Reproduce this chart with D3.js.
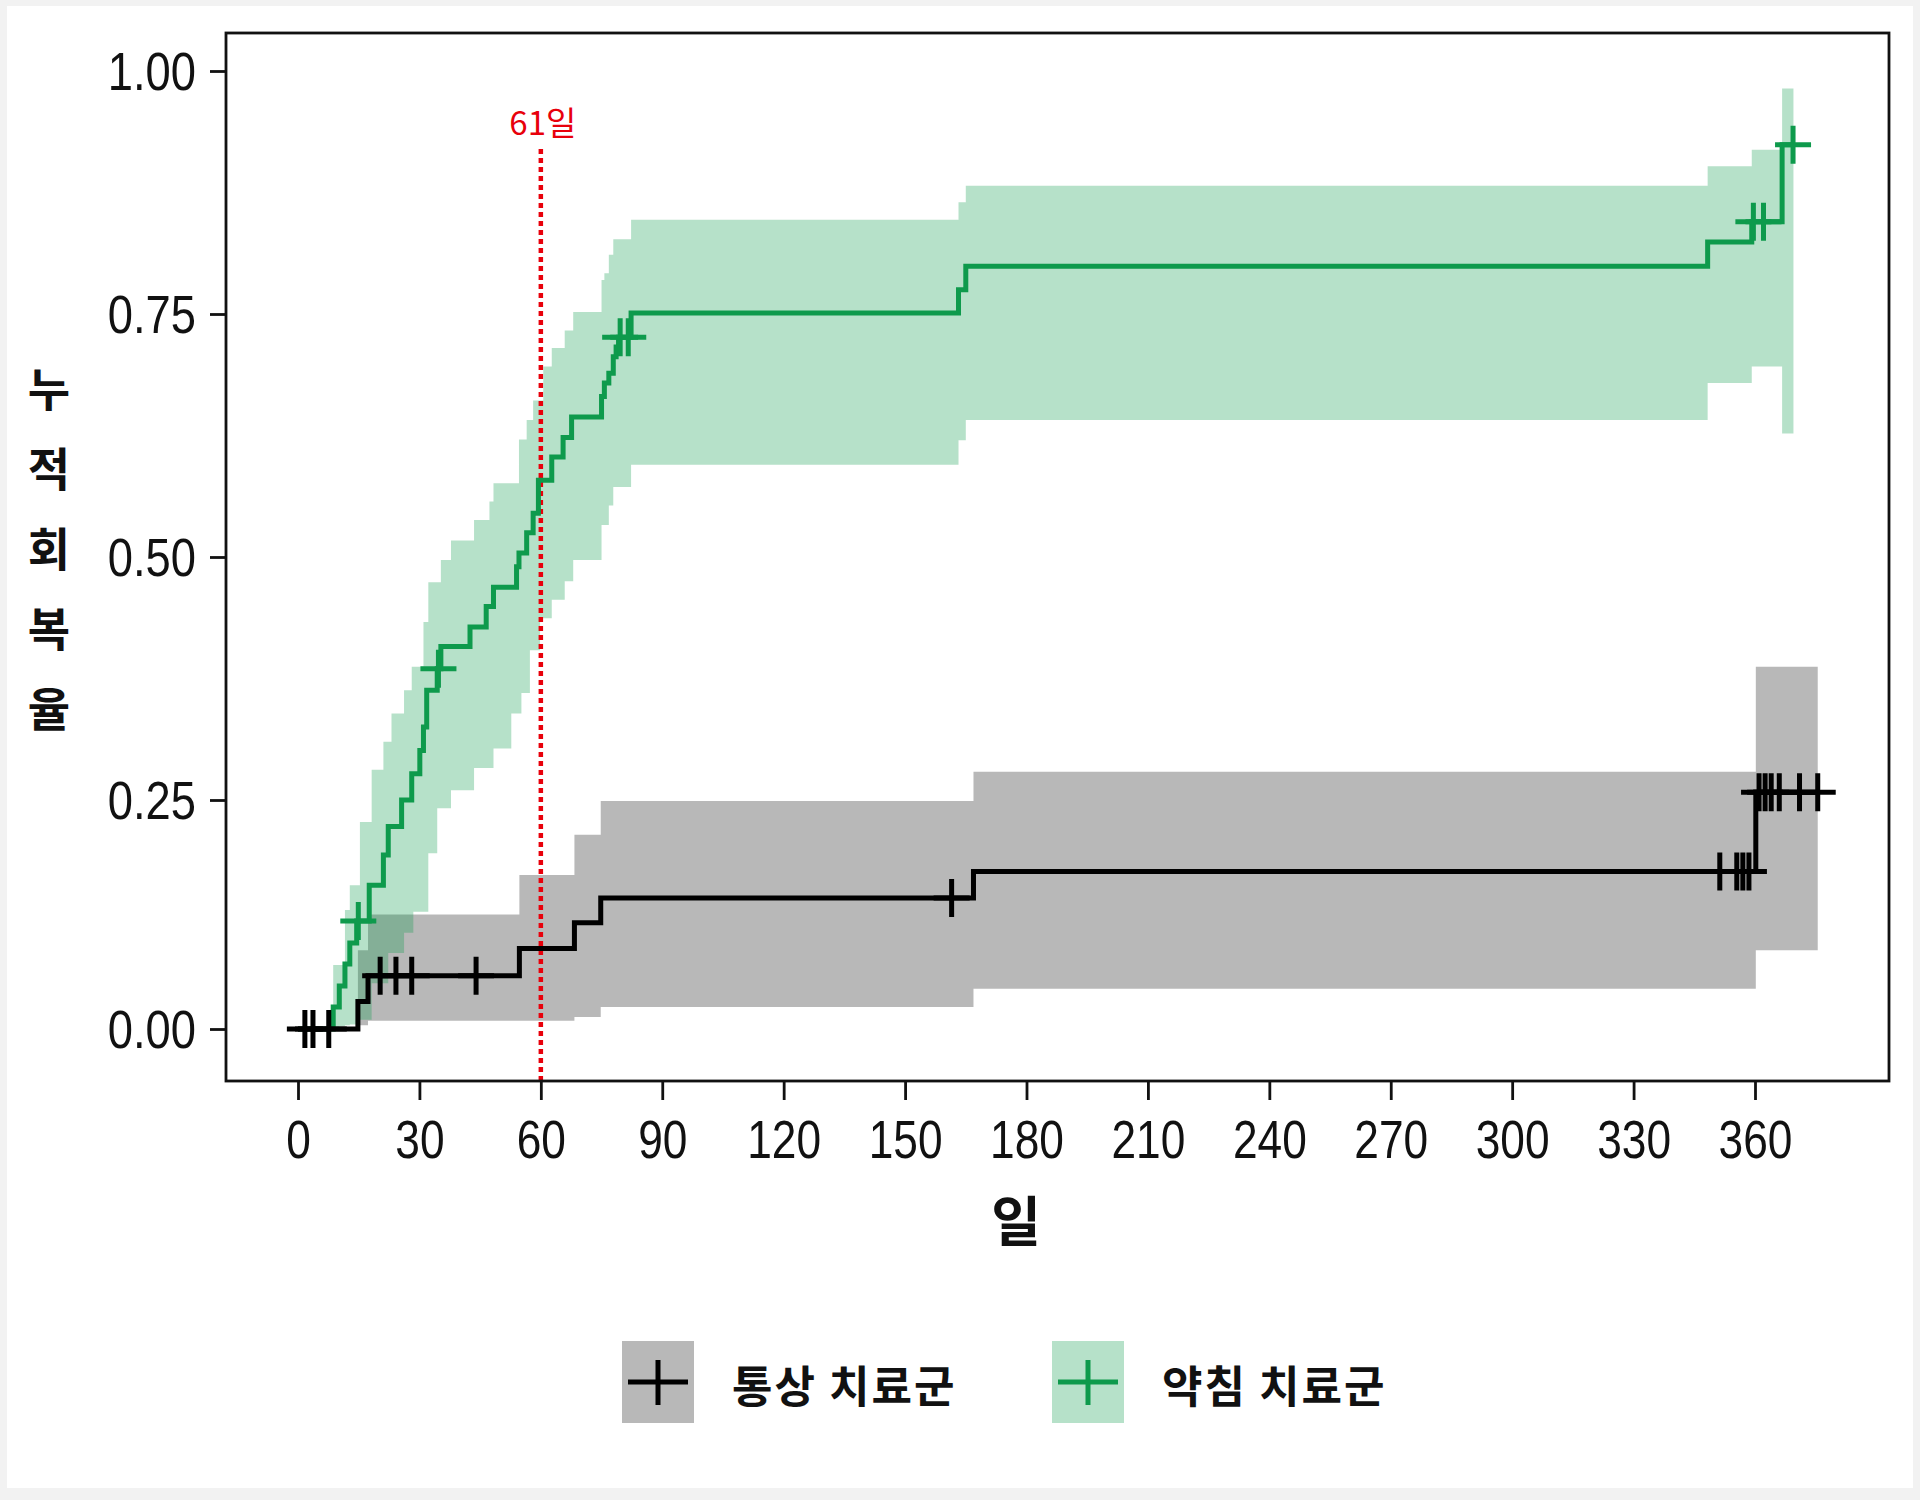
<!DOCTYPE html>
<html>
<head>
<meta charset="utf-8">
<script src="https://cdn.jsdelivr.net/npm/d3@7"></script>
<style>
  body { margin: 0; background: #f2f2f2; }
  svg { display: block; }
</style>
</head>
<body>
<svg id="chart" width="1920" height="1500"></svg>
<script>
// 통상 치료군 (usual care): step times, estimate, lower / upper CI
const usualDays = [0, 14.8, 17.3, 54.7, 68.3, 74.8, 166.9, 360.2];
const usualEst = [0, 0.03, 0.058, 0.088, 0.116, 0.143, 0.172, 0.258];
const usualLow = [0, 0.004, 0.009, 0.009, 0.013, 0.024, 0.044, 0.086];
const usualHigh = [0, 0.086, 0.125, 0.168, 0.212, 0.249, 0.279, 0.387];
const usualCensor = [1.7, 3.7, 7.6, 20.3, 24.2, 28.1, 44, 161.5, 351.3, 355.5, 357, 358.5, 361, 362.5, 364, 366, 371, 375.5];
const usualLastDay = 375.5;

// 약침 치료군 (pharmacopuncture)
const acuDays = [0, 8.7, 10.2, 11.6, 12.8, 14.5, 15.3, 17.6, 18.2, 21.1, 22.3, 23.1, 25.6, 26.2, 28.1, 28.5, 30.1, 31, 31.8, 32.2,
  34.4, 35.3, 37.8, 42.5, 43.5, 46.5, 47.3, 48.3, 52.7, 54, 54.6, 55.2, 56.5, 57.3, 58.1, 59.4, 59.8, 60.6, 62.7, 65.5,
  65.9, 67.6, 68, 75, 75.7, 76.8, 77.9, 78.6, 79.2, 82.3, 163.2, 165, 348.3, 359.2, 366.7];
const acuEst = [0, 0.024, 0.047, 0.071, 0.094, 0.118, 0.118, 0.157, 0.157, 0.19, 0.221, 0.221, 0.25, 0.25, 0.277, 0.277, 0.301, 0.325, 0.363, 0.363,
  0.385, 0.408, 0.408, 0.428, 0.428, 0.449, 0.449, 0.469, 0.469, 0.49, 0.504, 0.504, 0.525, 0.525, 0.545, 0.579, 0.579, 0.579, 0.603, 0.623,
  0.623, 0.644, 0.644, 0.665, 0.679, 0.689, 0.706, 0.716, 0.726, 0.751, 0.775, 0.799, 0.824, 0.845, 0.924];
const acuLow = [0, 0.002, 0.003, 0.004, 0.005, 0.007, 0.01, 0.01, 0.05, 0.05, 0.083, 0.083, 0.083, 0.105, 0.105, 0.128, 0.128, 0.128, 0.128, 0.192,
  0.241, 0.241, 0.26, 0.26, 0.283, 0.283, 0.283, 0.303, 0.339, 0.339, 0.339, 0.36, 0.36, 0.404, 0.404, 0.404, 0.437, 0.437, 0.456, 0.456,
  0.475, 0.475, 0.497, 0.533, 0.533, 0.553, 0.572, 0.572, 0.572, 0.595, 0.62, 0.641, 0.679, 0.696, 0.627];
const acuHigh = [0, 0.07, 0.07, 0.13, 0.157, 0.157, 0.226, 0.226, 0.281, 0.31, 0.31, 0.339, 0.339, 0.363, 0.387, 0.387, 0.387, 0.433, 0.433, 0.474,
  0.474, 0.497, 0.517, 0.517, 0.538, 0.538, 0.557, 0.576, 0.576, 0.576, 0.621, 0.621, 0.641, 0.641, 0.661, 0.661, 0.661, 0.696, 0.715, 0.715,
  0.733, 0.733, 0.752, 0.785, 0.792, 0.811, 0.827, 0.827, 0.827, 0.847, 0.865, 0.882, 0.902, 0.919, 0.982];
const acuCensor = [14.9, 34.7, 79.6, 81.6, 359.6, 362.1, 369.4];
const acuLastDay = 369.5;

const xTicks = [0, 30, 60, 90, 120, 150, 180, 210, 240, 270, 300, 330, 360];
const yTicks = [0, 0.25, 0.5, 0.75, 1];
const yTitle = ['누', '적', '회', '복', '율'];
const groupNames = ['통상 치료군', '약침 치료군'];
const markDay = 60;
const markLabel = '61일';

const GREEN = '#0e9a4c';
const numFont = '"Liberation Sans", Arial, sans-serif';
const krFont = '"Noto Sans CJK KR", "Noto Sans", sans-serif';

const svg = d3.select('#chart');
svg.append('rect').attr('x', 7).attr('y', 6).attr('width', 1906).attr('height', 1482).attr('fill', '#fff');

const panel = {left: 226, right: 1889, top: 33, bottom: 1081};
const x = d3.scaleLinear().domain([0, 360]).range([298, 1755]);
const y = d3.scaleLinear().domain([0, 0.25, 1]).range([1029, 800, 71]);

function rows(days, est, low, high, lastDay) {
  const r = days.map((d, i) => ({day: d, est: est[i], low: low[i], high: high[i]}));
  const last = r[r.length - 1];
  r.push({day: lastDay, est: last.est, low: last.low, high: last.high});
  return r;
}
const usualRows = rows(usualDays, usualEst, usualLow, usualHigh, usualLastDay);
const acuRows = rows(acuDays, acuEst, acuLow, acuHigh, acuLastDay);

const area = d3.area().curve(d3.curveStepAfter)
  .x(d => x(d.day)).y0(d => y(d.low)).y1(d => y(d.high));
const line = d3.line().curve(d3.curveStepAfter)
  .x(d => x(d.day)).y(d => y(d.est));

const plot = svg.append('g');
plot.append('path').datum(usualRows).attr('d', area).attr('fill', '#000').attr('fill-opacity', 0.28);
plot.append('path').datum(acuRows).attr('d', area).attr('fill', GREEN).attr('fill-opacity', 0.3);

// 61일 marker
plot.append('line')
  .attr('x1', x(markDay)).attr('x2', x(markDay))
  .attr('y1', 149).attr('y2', panel.bottom)
  .attr('stroke', '#e8000b').attr('stroke-width', 4.5).attr('stroke-dasharray', '5 4');
plot.append('text')
  .attr('x', x(markDay) + 2).attr('y', 135)
  .attr('text-anchor', 'middle')
  .attr('font-family', krFont).attr('font-size', 33).attr('fill', '#e8000b')
  .text(markLabel);

plot.append('path').datum(acuRows).attr('d', line)
  .attr('fill', 'none').attr('stroke', GREEN).attr('stroke-width', 5);
plot.append('path').datum(usualRows).attr('d', line)
  .attr('fill', 'none').attr('stroke', '#000').attr('stroke-width', 5);

const plus = 'M-18,0H18M0,-19V19';
function estAt(days, est, day) {
  return est[d3.bisectRight(days, day) - 1];
}
plot.selectAll('path.acu-censor').data(acuCensor).enter().append('path')
  .attr('class', 'acu-censor')
  .attr('d', plus)
  .attr('transform', d => 'translate(' + x(d) + ',' + y(estAt(acuDays, acuEst, d)) + ')')
  .attr('stroke', GREEN).attr('stroke-width', 5).attr('fill', 'none');
plot.selectAll('path.usual-censor').data(usualCensor).enter().append('path')
  .attr('class', 'usual-censor')
  .attr('d', plus)
  .attr('transform', d => 'translate(' + x(d) + ',' + y(estAt(usualDays, usualEst, d)) + ')')
  .attr('stroke', '#000').attr('stroke-width', 5).attr('fill', 'none');

// panel border
svg.append('rect')
  .attr('x', panel.left).attr('y', panel.top)
  .attr('width', panel.right - panel.left).attr('height', panel.bottom - panel.top)
  .attr('fill', 'none').attr('stroke', '#111').attr('stroke-width', 2.8);

// axes
const xAxis = svg.append('g').attr('transform', 'translate(0,' + panel.bottom + ')')
  .call(d3.axisBottom(x).tickValues(xTicks).tickSize(19).tickPadding(20));
const yAxis = svg.append('g').attr('transform', 'translate(' + panel.left + ',0)')
  .call(d3.axisLeft(y).tickValues(yTicks).tickSize(16).tickFormat(d3.format('.2f')));
[xAxis, yAxis].forEach(a => {
  a.select('.domain').remove();
  a.selectAll('.tick line').attr('stroke', '#111').attr('stroke-width', 2.8);
  a.selectAll('.tick text').attr('fill', '#111')
    .attr('font-family', numFont).attr('font-size', 54);
});
xAxis.selectAll('.tick text').attr('transform', 'scale(0.82,1)');
yAxis.selectAll('.tick text').attr('x', -30 / 0.84).attr('dy', '0.34em').attr('transform', 'scale(0.84,1)');

// axis titles
svg.append('text')
  .attr('x', 1016).attr('y', 1242)
  .attr('text-anchor', 'middle')
  .attr('font-family', krFont).attr('font-weight', 700).attr('font-size', 54).attr('fill', '#111')
  .text('일');
svg.selectAll('text.ytitle').data(yTitle).enter().append('text')
  .attr('class', 'ytitle')
  .attr('x', 49)
  .attr('y', (d, i) => 406 + i * 80)
  .attr('text-anchor', 'middle')
  .attr('font-family', krFont).attr('font-weight', 700).attr('font-size', 46).attr('fill', '#111')
  .text(d => d);

// legend
const legend = svg.append('g');
const legendX = [622, 1052];
const legendColor = ['#000', GREEN];
const legendFillOpacity = [0.28, 0.3];
groupNames.forEach((name, i) => {
  const g = legend.append('g').attr('transform', 'translate(' + legendX[i] + ',1341)');
  g.append('rect').attr('width', 72).attr('height', 82)
    .attr('fill', legendColor[i]).attr('fill-opacity', legendFillOpacity[i]);
  g.append('path').attr('d', 'M6,41H66M36,19V64')
    .attr('stroke', legendColor[i]).attr('stroke-width', 5).attr('fill', 'none');
  g.append('text')
    .attr('x', 110).attr('y', 62)
    .attr('font-family', krFont).attr('font-weight', 700).attr('font-size', 44).attr('fill', '#111')
    .attr('letter-spacing', 2)
    .text(name);
});
</script>
</body>
</html>
